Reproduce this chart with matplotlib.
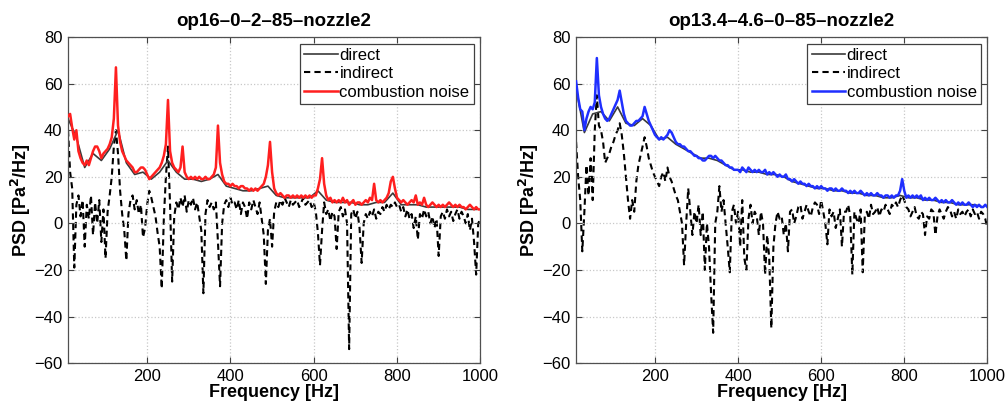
import numpy as np
import matplotlib
matplotlib.use('Agg')
import matplotlib.pyplot as plt

plt.rcParams['font.family'] = ['Liberation Sans', 'DejaVu Sans']

# frequency grids [Hz]
freq = np.arange(10, 1001, 5)          # 5 Hz grid for noise / indirect
freq_direct = np.arange(10, 1001, 20)  # coarse grid for direct (mostly hidden)

titles = ['op16\u20130\u20132\u201385\u2013nozzle2', 'op13.4\u20134.6\u20130\u201385\u2013nozzle2']

# ---- op16-0-2-85-nozzle2 ----
noise_1 = [
    46, 47, 41, 36, 40, 31, 28, 26, 25, 27,
    25, 28, 31, 33, 33, 31, 28, 30, 31, 32,
    34, 37, 45, 67, 42, 35, 31, 29, 27, 26,
    25, 24, 22, 22, 23, 24, 24, 23, 21, 19,
    20, 21, 22, 23, 24, 26, 29, 34, 53, 31,
    26, 24, 23, 22, 24, 33, 22, 20, 19, 20,
    19, 20, 19, 20, 19, 19, 20, 19, 19, 20,
    21, 24, 42, 26, 21, 18, 17, 17, 16, 17,
    16, 16, 15, 16, 16, 15, 15, 14, 15, 14,
    15, 14, 15, 16, 17, 20, 25, 35, 22, 15,
    13, 12, 13, 12, 11, 12, 12, 11, 12, 11,
    12, 11, 12, 11, 12, 11, 12, 11, 12, 12,
    15, 19, 28, 17, 12, 10, 11, 9, 10, 9,
    10, 9, 11, 9, 10, 8, 9, 10, 8, 9,
    9, 8, 9, 10, 9, 11, 10, 17, 10, 9,
    10, 9, 10, 11, 13, 18, 20, 15, 11, 10,
    9, 10, 9, 8, 9, 10, 9, 12, 8, 9,
    8, 11, 8, 7, 8, 9, 8, 7, 8, 7,
    8, 7, 8, 9, 8, 7, 8, 7, 8, 7,
    7, 6, 7, 8, 7, 6, 7, 6, 6,
]
direct_1 = [
    45, 37, 24, 30, 27, 32, 40, 26, 21, 22,
    19, 22, 27, 22, 19, 19, 18, 19, 21, 16,
    15, 14, 14, 15, 16, 12, 11, 11, 11, 11,
    14, 10, 9, 9, 9, 8, 8, 9, 9, 13,
    8, 8, 8, 7, 7, 7, 7, 7, 6, 6,
]
indirect_1 = [
    40, 22, 15, -19, 8, 12, 3, 10, -10, 8,
    2, 12, -5, 9, 0, 10, -8, 6, -15, 5,
    12, 20, 33, 40, 30, 14, 4, -3, -16, 4,
    10, 12, 6, 10, 4, 8, -6, -2, 8, 14,
    11, 7, 3, -4, -10, -28, 2, 20, 33, 8,
    -25, 3, 9, 6, 11, 7, 12, 5, 10, 8,
    11, 6, 9, 3, -3, -30, 4, 10, 7, 9,
    6, 9, -8, -27, 0, 8, 10, 7, 11, 8,
    9, 6, 10, 4, 9, 7, 2, 9, 6, 10,
    7, 4, 9, 2, -5, -26, -3, 2, -10, 5,
    9, 7, 10, 8, 11, 9, 7, 10, 8, 9,
    10, 7, 9, 11, 8, 9, 10, 7, 9, 5,
    -4, -18, -3, 9, 4, 6, 1, 5, 3, -11,
    5, 7, 3, 6, 0, -54, 4, 6, 2, 5,
    -2, -17, 0, 4, 2, 5, 3, 6, 2, 5,
    4, 7, 5, 8, 6, 8, 7, 9, 7, 8,
    5, 7, 3, 6, 2, 4, -2, 3, -7, 4,
    2, 6, 3, 5, 0, 3, -2, 2, -14, 3,
    5, 2, 6, 3, 5, 1, 4, 6, 2, 5,
    3, 0, 4, -3, 2, -8, -22, 0, 2,
]

# ---- op13.4-4.6-0-85-nozzle2 ----
noise_2 = [
    61, 54, 49, 48, 40, 45, 48, 50, 49, 52,
    71, 55, 50, 47, 45, 44, 45, 47, 49, 51,
    53, 57, 52, 47, 44, 43, 42, 42, 43, 44,
    44, 45, 46, 50, 47, 44, 42, 40, 38, 37,
    36, 37, 36, 37, 38, 40, 39, 37, 35, 34,
    34, 33, 33, 32, 31, 31, 30, 29, 29, 28,
    28, 27, 27, 28, 29, 29, 28, 29, 28, 27,
    27, 26, 25, 25, 24, 24, 23, 23, 23, 22,
    24, 23, 22, 24, 23, 22, 23, 22, 23, 22,
    22, 23, 21, 22, 21, 22, 21, 20, 21, 20,
    20, 21, 19, 19, 18, 19, 18, 17, 18, 17,
    17, 16, 17, 16, 16, 15, 16, 15, 16, 15,
    15, 14, 15, 15, 14, 15, 14, 14, 15, 14,
    14, 13, 14, 13, 14, 13, 13, 14, 13, 12,
    13, 12, 13, 12, 12, 13, 12, 12, 11, 12,
    12, 11, 12, 11, 12, 12, 14, 19, 14, 11,
    12, 11, 12, 11, 12, 11, 12, 10, 11, 10,
    11, 10, 10, 11, 10, 9, 10, 9, 10, 9,
    9, 10, 9, 8, 9, 8, 9, 8, 8, 9,
    8, 7, 8, 7, 8, 7, 7, 8, 7,
]
direct_2 = [
    58, 39, 47, 48, 44, 50, 43, 42, 45, 42,
    36, 37, 34, 32, 30, 28, 28, 27, 25, 23,
    23, 22, 22, 21, 21, 20, 18, 17, 16, 15,
    15, 14, 14, 13, 13, 12, 12, 11, 11, 12,
    11, 11, 10, 10, 9, 9, 8, 8, 8, 7,
]
indirect_2 = [
    35, 20, 10, -12, 5, 25, 12, 28, 10, 40,
    55, 42, 40, 35, 26, 28, 30, 33, 35, 38,
    40, 43, 38, 30, 20, 10, 2, 10, 5, 18,
    25, 29, 33, 37, 33, 28, 25, 22, 20, 18,
    16, 20, 22, 18, 24, 20, 18, 15, 12, 10,
    5, 0, -18, 0, 15, 5, -5, 5, 0, 8,
    -5, 5, -20, 0, -10, -30, -47, 0, 5, 16,
    5, 10, 0, -10, -21, 5, 8, 0, 5, -10,
    10, -15, -20, 2, 8, 0, 5, 3, -5, 5,
    0, -22, -5, -15, -45, -10, 0, 5, 2, 3,
    -5, 0, -12, 5, 6, 0, 3, 7, 8, 2,
    5, 8, 5, 3, 7, 9, 8, 4, 10, 5,
    0, -9, 6, 3, 5, -2, 2, 6, -10, 5,
    5, 8, 3, -22, 5, 2, 0, 6, -21, 3,
    5, 2, 8, 4, 5, 7, 3, 6, 5, 8,
    6, 4, 8, 7, 9, 7, 10, 12, 10, 7,
    6, 3, 5, 7, 3, 2, 5, 4, -5, 3,
    2, 6, 5, -5, 3, 6, 4, 2, 5, 7,
    6, 3, 5, 2, 6, 4, 5, 3, 5, 6,
    3, 6, 4, 5, 2, 5, 4, 2, -2,
]

panels = [
    (titles[0], direct_1, indirect_1, noise_1, '#ff1f1f'),
    (titles[1], direct_2, indirect_2, noise_2, '#1f2fff'),
]

fig = plt.figure(figsize=(10.08, 4.03), dpi=100)
axes = [fig.add_axes([0.0675, 0.099, 0.409, 0.809]),
        fig.add_axes([0.5715, 0.099, 0.408, 0.809])]

for ax, (title, direct, indirect, noise, col) in zip(axes, panels):
    ax.plot(freq_direct, direct, color='#3a3a3a', lw=1.2, label='direct', zorder=2)
    ax.plot(freq, indirect, color='black', lw=1.5, ls=(0, (3, 2)), label='indirect', zorder=1)
    ax.plot(freq, noise, color=col, lw=1.8, label='combustion noise', zorder=3)

    ax.set_xlim(10, 1000)
    ax.set_ylim(-60, 80)
    ax.set_xticks([200, 400, 600, 800, 1000])
    ax.set_yticks(np.arange(-60, 81, 20))
    ax.grid(True, color='#c8c8c8', ls=':', lw=0.9)
    ax.tick_params(direction='in', top=True, right=True, labelsize=12,
                   length=4, color='#404040', pad=4)
    for s in ax.spines.values():
        s.set_color('#505050')
        s.set_linewidth(0.9)

    ax.set_title(title, fontsize=13.5, fontweight='bold', pad=8)
    ax.set_xlabel('Frequency [Hz]', fontsize=13, fontweight='bold', labelpad=0)
    ax.set_ylabel(r'PSD [Pa$^{\mathbf{2}}$/Hz]', fontsize=13, fontweight='bold', labelpad=1)

    leg = ax.legend(loc='upper right', fontsize=12, fancybox=False, framealpha=1,
                    edgecolor='#404040', borderpad=0.25, labelspacing=0.2,
                    handlelength=2.0, handletextpad=0.1, borderaxespad=0.4)
    leg.get_frame().set_linewidth(0.9)

fig.savefig('out.png', dpi=100)
